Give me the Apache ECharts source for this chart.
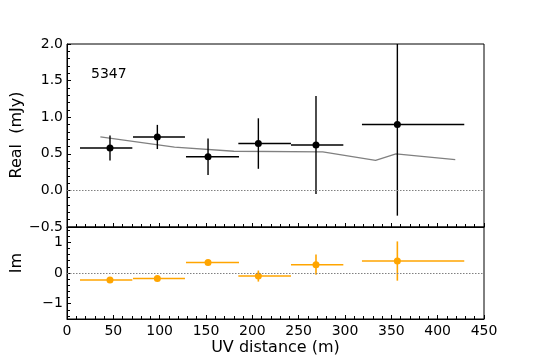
<!DOCTYPE html>
<html>
<head>
<meta charset="utf-8">
<script src="https://cdn.jsdelivr.net/npm/echarts@6/dist/echarts.min.js"></script>
<style>
  html, body { margin: 0; padding: 0; background: #fff; }
  #chart { width: 538px; height: 359px; }
</style>
</head>
<body>
<div id="chart"></div>
<script>
// bins in UV distance (m): centre, lower edge, upper edge
var uvDist = [46.4, 97.5, 152.2, 206.5, 268.7, 356.5]
var uvLow = [14.0, 71.2, 128.4, 184.9, 241.7, 318.3]
var uvHigh = [70.5, 127.3, 185.6, 241.7, 298.2, 428.7]

// real part (mJy) and its error
var realVals = [0.58, 0.73, 0.46, 0.64, 0.62, 0.90]
var realErr = [0.17, 0.165, 0.25, 0.345, 0.67, 1.245]

// imaginary part and its error
var imVals = [-0.23, -0.18, 0.34, -0.10, 0.27, 0.39]
var imErr = [0.04, 0.04, 0.06, 0.18, 0.33, 0.64]

// model curve (grey)
var modelX = [36, 116, 180, 276, 333, 355, 419]
var modelY = [0.73, 0.59, 0.535, 0.525, 0.41, 0.50, 0.42]

var xTicks = [0, 50, 100, 150, 200, 250, 300, 350, 400, 450]
var realTicks = [-0.5, 0, 0.5, 1.0, 1.5, 2.0]
var imTicks = [-1, 0, 1]
var imMinorTicks = [-1.4, -1.2, -0.8, -0.6, -0.4, -0.2, 0.2, 0.4, 0.6, 0.8, 1.2, 1.4]

var FONT = 'DejaVu Sans'

function minus (s) {
  return String(s).replace('-', '\u2212')
}

// error bar: data row = [x, y, xlow, xhigh, yerr]
function errorBars (color, width) {
  return function (params, api) {
    var cs = params.coordSys
    var clampY = function (y) { return Math.max(cs.y, Math.min(cs.y + cs.height, y)) }
    var l = api.coord([api.value(2), api.value(1)])
    var r = api.coord([api.value(3), api.value(1)])
    var t = api.coord([api.value(0), api.value(1) + api.value(4)])
    var b = api.coord([api.value(0), api.value(1) - api.value(4)])
    return {
      type: 'group',
      children: [
        { type: 'line', shape: { x1: l[0], y1: l[1], x2: r[0], y2: r[1] }, style: { stroke: color, lineWidth: width } },
        { type: 'line', shape: { x1: t[0], y1: clampY(t[1]), x2: b[0], y2: clampY(b[1]) }, style: { stroke: color, lineWidth: width } }
      ]
    }
  }
}

var realRows = uvDist.map(function (x, i) { return [x, realVals[i], uvLow[i], uvHigh[i], realErr[i]] })
var imRows = uvDist.map(function (x, i) { return [x, imVals[i], uvLow[i], uvHigh[i], imErr[i]] })
var realPts = uvDist.map(function (x, i) { return [x, realVals[i]] })
var imPts = uvDist.map(function (x, i) { return [x, imVals[i]] })
var modelPts = modelX.map(function (x, i) { return [x, modelY[i]] })

var chart = echarts.init(document.getElementById('chart'), null, { renderer: 'canvas' })

var baseX = {
  type: 'value',
  min: 0,
  max: 450,
  interval: 50,
  axisLine: { show: true, onZero: false, lineStyle: { color: '#000', width: 1 } },
  axisTick: { show: true, inside: true, length: 4, lineStyle: { color: '#000' } },
  minorTick: { show: true, splitNumber: 5, length: 3, lineStyle: { color: '#000' } },
  splitLine: { show: false }
}

var zeroLine = {
  silent: true,
  symbol: 'none',
  label: { show: false },
  lineStyle: { color: '#808080', type: [1.5, 1.5], width: 1 },
  data: [{ yAxis: 0 }]
}

var option = {
  animation: false,
  textStyle: { fontFamily: FONT },
  grid: [
    { left: 67, right: 54, top: 44, height: 183, show: true, borderColor: '#000', borderWidth: 1, containLabel: false, outerBoundsMode: 'none' },
    { left: 67, right: 54, top: 227, height: 92, show: true, borderColor: '#000', borderWidth: 1, containLabel: false, outerBoundsMode: 'none' }
  ],
  xAxis: [
    Object.assign({}, baseX, { gridIndex: 0, axisLabel: { show: false } }),
    Object.assign({}, baseX, {
      gridIndex: 1,
      axisLabel: { show: true, margin: 5, color: '#000', fontSize: 14, fontFamily: FONT, customValues: xTicks },
      name: 'UV distance (m)',
      nameLocation: 'middle',
      nameGap: 21,
      nameTextStyle: { color: '#000', fontSize: 16, fontFamily: FONT }
    })
  ],
  yAxis: [
    {
      type: 'value',
      gridIndex: 0,
      min: -0.5,
      max: 2.0,
      interval: 0.5,
      axisLine: { show: true, onZero: false, lineStyle: { color: '#000', width: 1 } },
      axisTick: { show: true, inside: true, length: 4, lineStyle: { color: '#000' } },
      minorTick: { show: true, splitNumber: 5, length: 3, lineStyle: { color: '#000' } },
      splitLine: { show: false },
      axisLabel: {
        margin: 4, color: '#000', fontSize: 14, fontFamily: FONT,
        customValues: realTicks,
        formatter: function (v) { return minus(v.toFixed(1)) }
      }
    },
    {
      type: 'value',
      gridIndex: 1,
      min: -1.5,
      max: 1.5,
      interval: 0.5,
      axisLine: { show: true, onZero: false, lineStyle: { color: '#000', width: 1 } },
      axisTick: { show: true, inside: true, length: 4, customValues: imTicks, lineStyle: { color: '#000' } },
      splitLine: { show: false },
      axisLabel: {
        margin: 4, color: '#000', fontSize: 14, fontFamily: FONT,
        customValues: imTicks,
        formatter: function (v) { return minus(Math.round(v)) }
      }
    },
    {
      // minor ticks only for the Im panel
      type: 'value',
      gridIndex: 1,
      position: 'left',
      min: -1.5,
      max: 1.5,
      interval: 0.5,
      axisLine: { show: false, onZero: false },
      axisTick: { show: true, inside: true, length: 3, customValues: imMinorTicks, lineStyle: { color: '#000' } },
      splitLine: { show: false },
      axisLabel: { show: false }
    }
  ],
  graphic: [
    { type: 'text', left: 91, top: 67, style: { text: '5347', fill: '#000', font: '14px "DejaVu Sans"' } },
    { type: 'text', x: 17, y: 135, rotation: Math.PI / 2, style: { text: 'Real  (mJy)', fill: '#000', font: '16px "DejaVu Sans"', align: 'center', verticalAlign: 'middle' } },
    { type: 'text', x: 17, y: 263, rotation: Math.PI / 2, style: { text: 'Im', fill: '#000', font: '16px "DejaVu Sans"', align: 'center', verticalAlign: 'middle' } }
  ],
  series: [
    {
      name: 'model',
      type: 'line',
      xAxisIndex: 0,
      yAxisIndex: 0,
      data: modelPts,
      showSymbol: false,
      lineStyle: { color: '#808080', width: 1.3 },
      z: 2,
      markLine: zeroLine
    },
    {
      name: 'realErr',
      type: 'custom',
      xAxisIndex: 0,
      yAxisIndex: 0,
      clip: true,
      renderItem: errorBars('#000', 1.4),
      data: realRows,
      z: 3
    },
    {
      name: 'real',
      type: 'scatter',
      xAxisIndex: 0,
      yAxisIndex: 0,
      data: realPts,
      symbolSize: 7,
      itemStyle: { color: '#000', opacity: 1 },
      z: 4
    },
    {
      name: 'imZero',
      type: 'line',
      xAxisIndex: 1,
      yAxisIndex: 1,
      data: [],
      markLine: zeroLine
    },
    {
      name: 'imErr',
      type: 'custom',
      xAxisIndex: 1,
      yAxisIndex: 1,
      clip: true,
      renderItem: errorBars('#FFA500', 1.6),
      data: imRows,
      z: 3
    },
    {
      name: 'im',
      type: 'scatter',
      xAxisIndex: 1,
      yAxisIndex: 1,
      data: imPts,
      symbolSize: 7,
      itemStyle: { color: '#FFA500', opacity: 1 },
      z: 4
    }
  ]
}

chart.setOption(option)
</script>
</body>
</html>
